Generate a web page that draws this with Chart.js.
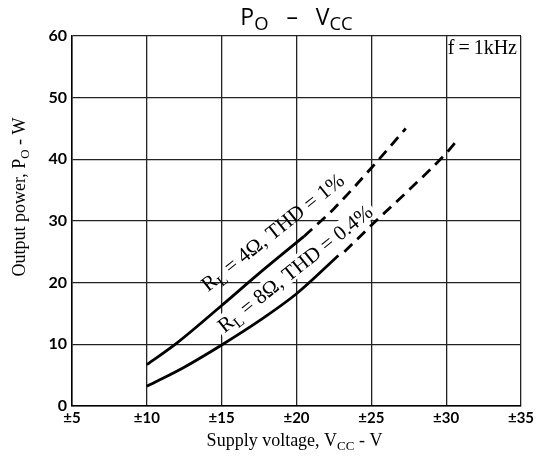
<!DOCTYPE html>
<html>
<head>
<meta charset="utf-8">
<script src="https://cdn.jsdelivr.net/npm/chart.js@4.4.1/dist/chart.umd.min.js"></script>
<style>
  body { margin: 0; background: #fff; }
  #po_chart { display: block; }
</style>
</head>
<body>
<canvas id="po_chart" width="547" height="459"></canvas>
<script>
// supply voltage (±V) / output power (W)
const volts4Solid = [10, 12, 15, 17.5, 20.5];
const power4Solid = [6.7, 10.2, 16.3, 21.5, 27.5];
const volts4Dash = [20.5, 22.5, 25, 27.3];
const power4Dash = [27.5, 32.0, 38.6, 45.0];

const volts8Solid = [10, 12.5, 15, 17.5, 20, 22.8];
const power8Solid = [3.2, 6.3, 9.9, 13.8, 18.2, 24.4];
const volts8Dash = [23.2, 25.3, 27.5, 30, 30.8];
const power8Dash = [25.0, 30.0, 35.0, 41.0, 43.3];

const xTicks = [5, 10, 15, 20, 25, 30, 35];
const yTicks = [0, 10, 20, 30, 40, 50, 60];

const pts = (xs, ys) => xs.map((x, i) => ({ x: x, y: ys[i] }));

const serif = '"Liberation Serif", "Times New Roman", serif';
const sans = '"Open Sans", "DejaVu Sans", sans-serif';

// measures / draws a run of text pieces, some of them subscripts
function measureRich(ctx, parts, size, family, subScale) {
    let total = 0;
    parts.forEach(p => {
        ctx.font = (p.sub ? size * subScale : size) + 'px ' + family;
        p.w = ctx.measureText(p.t).width;
        total += p.w;
    });
    return total;
}

function richText(ctx, parts, x, y, size, family, align, subScale) {
    subScale = subScale || 0.72;
    const total = measureRich(ctx, parts, size, family, subScale);
    let cx = align === 'center' ? x - total / 2 : (align === 'right' ? x - total : x);
    ctx.textAlign = 'left';
    ctx.textBaseline = 'alphabetic';
    parts.forEach(p => {
        ctx.font = (p.sub ? size * subScale : size) + 'px ' + family;
        ctx.fillText(p.t, cx, p.sub ? y + size * 0.22 : y);
        cx += p.w;
    });
}

const textPlugin = {
    id: 'textPlugin',
    afterDraw(chart) {
        const ctx = chart.ctx;
        const xs = chart.scales.x, ys = chart.scales.y;
        const area = chart.chartArea;
        ctx.save();
        ctx.fillStyle = '#000';

        // title
        richText(ctx, [{ t: 'P' }, { t: 'O', sub: true }, { t: '   –   ' }, { t: 'V' }, { t: 'CC', sub: true }],
            (area.left + area.right) / 2, 25, 23, sans, 'center', 0.8);

        // x axis title
        richText(ctx, [{ t: 'Supply voltage, V' }, { t: 'CC', sub: true }, { t: ' - V' }],
            (area.left + area.right) / 2 - 2, 446, 18, serif, 'center');

        // y axis title
        ctx.save();
        ctx.translate(25, 197);
        ctx.rotate(-Math.PI / 2);
        richText(ctx, [{ t: 'Output power, P' }, { t: 'O', sub: true }, { t: ' - W' }], 0, 0, 18, serif, 'center');
        ctx.restore();

        // frequency note
        richText(ctx, [{ t: 'f\u2009=\u20091kHz' }], area.right - 4, 54, 20, serif, 'right');

        // curve labels, anchored at their visual centre
        const labels = [
            { v: 18.4, p: 28.2, box: false, parts: [{ t: 'R' }, { t: 'L', sub: true }, { t: ' = 4Ω, THD = 1%' }] },
            { v: 19.9, p: 22.3, box: true, parts: [{ t: 'R' }, { t: 'L', sub: true }, { t: ' = 8Ω, THD = 0.4%' }] }
        ];
        const size = 21;
        labels.forEach(l => {
            ctx.save();
            ctx.translate(xs.getPixelForValue(l.v), ys.getPixelForValue(l.p));
            ctx.rotate(-38.5 * Math.PI / 180);
            if (l.box) {
                const w = measureRich(ctx, l.parts, size, serif, 0.72);
                ctx.fillStyle = '#fff';
                ctx.fillRect(-w / 2 - 3, -size * 0.5, w + 6, size * 0.95);
            }
            ctx.fillStyle = '#000';
            richText(ctx, l.parts, 0, size * 0.33, size, serif, 'center');
            ctx.restore();
        });
        ctx.restore();
    }
};

const lineStyle = {
    borderColor: '#000',
    borderWidth: 2.8,
    pointRadius: 0,
    fill: false,
    cubicInterpolationMode: 'monotone'
};

new Chart(document.getElementById('po_chart'), {
    type: 'line',
    data: {
        datasets: [
            { ...lineStyle, label: '4 ohm', data: pts(volts4Solid, power4Solid) },
            { ...lineStyle, label: '4 ohm ext', data: pts(volts4Dash, power4Dash), borderDash: [11, 7] },
            { ...lineStyle, label: '8 ohm', data: pts(volts8Solid, power8Solid) },
            { ...lineStyle, label: '8 ohm ext', data: pts(volts8Dash, power8Dash), borderDash: [11, 7] }
        ]
    },
    options: {
        responsive: false,
        animation: false,
        layout: { padding: { top: 36, right: 26, left: 0, bottom: 0 } },
        plugins: {
            legend: { display: false },
            tooltip: { enabled: false }
        },
        scales: {
            x: {
                type: 'linear',
                min: 5,
                max: 35,
                afterBuildTicks: s => { s.ticks = xTicks.map(v => ({ value: v })); },
                afterFit: s => { s.height = 53; s.paddingLeft = 0; s.paddingRight = 0; },
                ticks: {
                    callback: v => '±' + v,
                    color: '#000',
                    padding: 3,
                    maxRotation: 0,
                    font: { family: 'Lato', weight: 'bold', size: 15 }
                },
                grid: { color: '#222', lineWidth: 1.3, drawTicks: false },
                border: { color: '#000', width: 1.5 }
            },
            y: {
                min: 0,
                max: 60,
                afterBuildTicks: s => { s.ticks = yTicks.map(v => ({ value: v })); },
                afterFit: s => { s.width = 72; s.paddingTop = 0; s.paddingBottom = 0; },
                ticks: {
                    color: '#000',
                    padding: 5,
                    font: { family: 'Lato', weight: 'bold', size: 16 }
                },
                grid: { color: '#222', lineWidth: 1.3, drawTicks: false },
                border: { color: '#000', width: 1.5 }
            }
        }
    },
    plugins: [textPlugin]
});
</script>
</body>
</html>
